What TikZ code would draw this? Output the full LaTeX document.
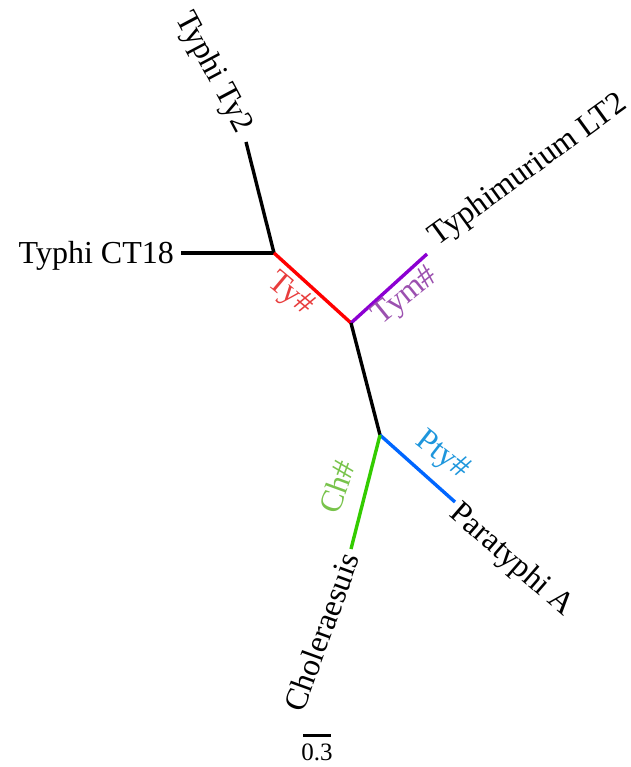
\documentclass[tikz,border=0pt]{standalone}
\usepackage{fontspec}
\setmainfont{Liberation Serif}

\definecolor{tyred}{RGB}{255,0,0}
\definecolor{tymline}{RGB}{140,0,210}
\definecolor{ptyline}{RGB}{0,102,255}
\definecolor{chline}{RGB}{51,204,0}
\definecolor{tytext}{RGB}{232,60,60}
\definecolor{tymtext}{RGB}{155,80,175}
\definecolor{ptytext}{RGB}{30,150,220}
\definecolor{chtext}{RGB}{120,195,75}

\begin{document}
\begin{tikzpicture}[x=1pt,y=-1pt,
  branch/.style={line width=3.4pt},
  tiplabel/.style={font=\fontsize{32}{38}\selectfont,inner sep=0pt},
  edgelabel/.style={font=\fontsize{32}{38}\selectfont,inner sep=0pt}]
  \useasboundingbox (0,0) rectangle (630,767);

  %internal nodes
  \coordinate (nty) at (274,253);
  \coordinate (nroot) at (351,323);
  \coordinate (npty) at (380,435);

  %tips
  \coordinate (ty2) at (246,142);
  \coordinate (ct18) at (181,253);
  \coordinate (lt2) at (427,254);
  \coordinate (pta) at (455,502);
  \coordinate (chs) at (351,549);

  %branches
  \draw[branch] (nty) -- (ty2);
  \draw[branch] (nty) -- (ct18);
  \draw[branch,tyred] (nroot) -- (nty);
  \draw[branch,tymline] (nroot) -- (lt2);
  \draw[branch] (nroot) -- (npty);
  \draw[branch,ptyline] (npty) -- (pta);
  \draw[branch,chline] (npty) -- (chs);

  %tip labels
  \node[tiplabel,anchor=east,rotate=-62] (lty2) at (244,131){Typhi Ty2};
  \node[tiplabel,anchor=east] (lct18) at (174,256){Typhi CT18};
  \node[tiplabel,anchor=west,rotate=36] (llt2) at (433,240){Typhimurium LT2};
  \node[tiplabel,anchor=west,rotate=-41] (lpta) at (453,510){Paratyphi A};
  \node[tiplabel,anchor=east,rotate=70] (lchs) at (350,554){Choleraesuis};

  %clade labels
  \node[edgelabel,tytext,rotate=-40] (lty) at (290,295){Ty\#};
  \node[edgelabel,tymtext,rotate=39] (ltym) at (406,297){Tym\#};
  \node[edgelabel,ptytext,rotate=-38] (lpty) at (442,456){Pty\#};
  \node[edgelabel,chtext,rotate=70] (lch) at (337,487){Ch\#};

  %scale bar
  \coordinate (sbl) at (303,735);
  \coordinate (sbr) at (331,735);
  \draw[line width=3pt] (sbl) -- (sbr);
  \node[font=\fontsize{25}{30}\selectfont,inner sep=0pt,anchor=north] (lsb) at (317,744){0.3};
\end{tikzpicture}
\end{document}
